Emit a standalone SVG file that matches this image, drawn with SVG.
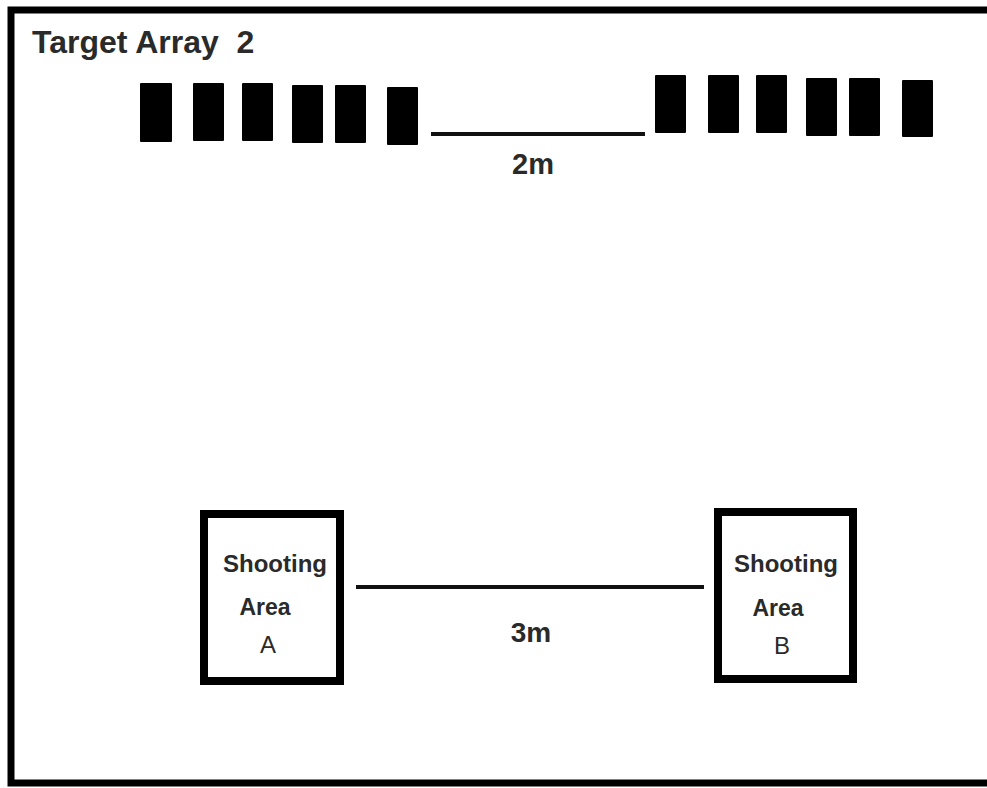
<svg xmlns="http://www.w3.org/2000/svg" width="987" height="788" viewBox="0 0 987 788">
  <style>
    .frame { fill: none; stroke: #000; stroke-width: 7; }
    .target { fill: #000; }
    .box { fill: #fff; stroke: #000; stroke-width: 8; }
    .line { stroke: #111; stroke-width: 4; fill: none; }
    .bold { font-family: "Liberation Sans", Arial, sans-serif; font-weight: bold; fill: #2a2a2a; }
    .reg { font-family: "Liberation Sans", Arial, sans-serif; font-weight: normal; fill: #2a2a2a; }
  </style>
  <rect width="987" height="788" fill="#fff"/>
  <rect class="frame" x="11" y="10" width="1000" height="773"/>

  <g id="title">
    <text class="bold" x="32" y="53" font-size="32" xml:space="preserve">Target Array  2</text>
  </g>

  <g id="targets-left">
    <rect class="target" x="140" y="83" width="32" height="59" rx="1"/>
    <rect class="target" x="193" y="83" width="31" height="58" rx="1"/>
    <rect class="target" x="242" y="83" width="31" height="58" rx="1"/>
    <rect class="target" x="292" y="85" width="31" height="58" rx="1"/>
    <rect class="target" x="335" y="85" width="31" height="58" rx="1"/>
    <rect class="target" x="387" y="87" width="31" height="58" rx="1"/>
  </g>

  <g id="targets-right">
    <rect class="target" x="655" y="75" width="31" height="58" rx="1"/>
    <rect class="target" x="708" y="75" width="31" height="58" rx="1"/>
    <rect class="target" x="756" y="75" width="31" height="58" rx="1"/>
    <rect class="target" x="806" y="78" width="31" height="58" rx="1"/>
    <rect class="target" x="849" y="78" width="31" height="58" rx="1"/>
    <rect class="target" x="902" y="80" width="31" height="57" rx="1"/>
  </g>

  <g id="connectors">
    <line class="line" x1="431" y1="134" x2="645" y2="134"/>
    <line class="line" x1="356" y1="587" x2="704" y2="587"/>
  </g>

  <g id="label-2m">
    <text class="bold" x="533" y="174" font-size="29" text-anchor="middle">2m</text>
  </g>

  <g id="label-3m">
    <text class="bold" x="531" y="642" font-size="28" text-anchor="middle">3m</text>
  </g>

  <g id="shooting-area-a">
    <rect class="box" x="204" y="514" width="136" height="167"/>
    <text class="bold" x="275" y="572" font-size="24" text-anchor="middle">Shooting</text>
    <text class="bold" x="265" y="615" font-size="23" text-anchor="middle">Area</text>
    <text class="reg" x="268" y="653" font-size="24" text-anchor="middle">A</text>
  </g>

  <g id="shooting-area-b">
    <rect class="box" x="718" y="512" width="135" height="167"/>
    <text class="bold" x="786" y="572" font-size="24" text-anchor="middle">Shooting</text>
    <text class="bold" x="778" y="616" font-size="23" text-anchor="middle">Area</text>
    <text class="reg" x="782" y="654" font-size="24" text-anchor="middle">B</text>
  </g>
</svg>
